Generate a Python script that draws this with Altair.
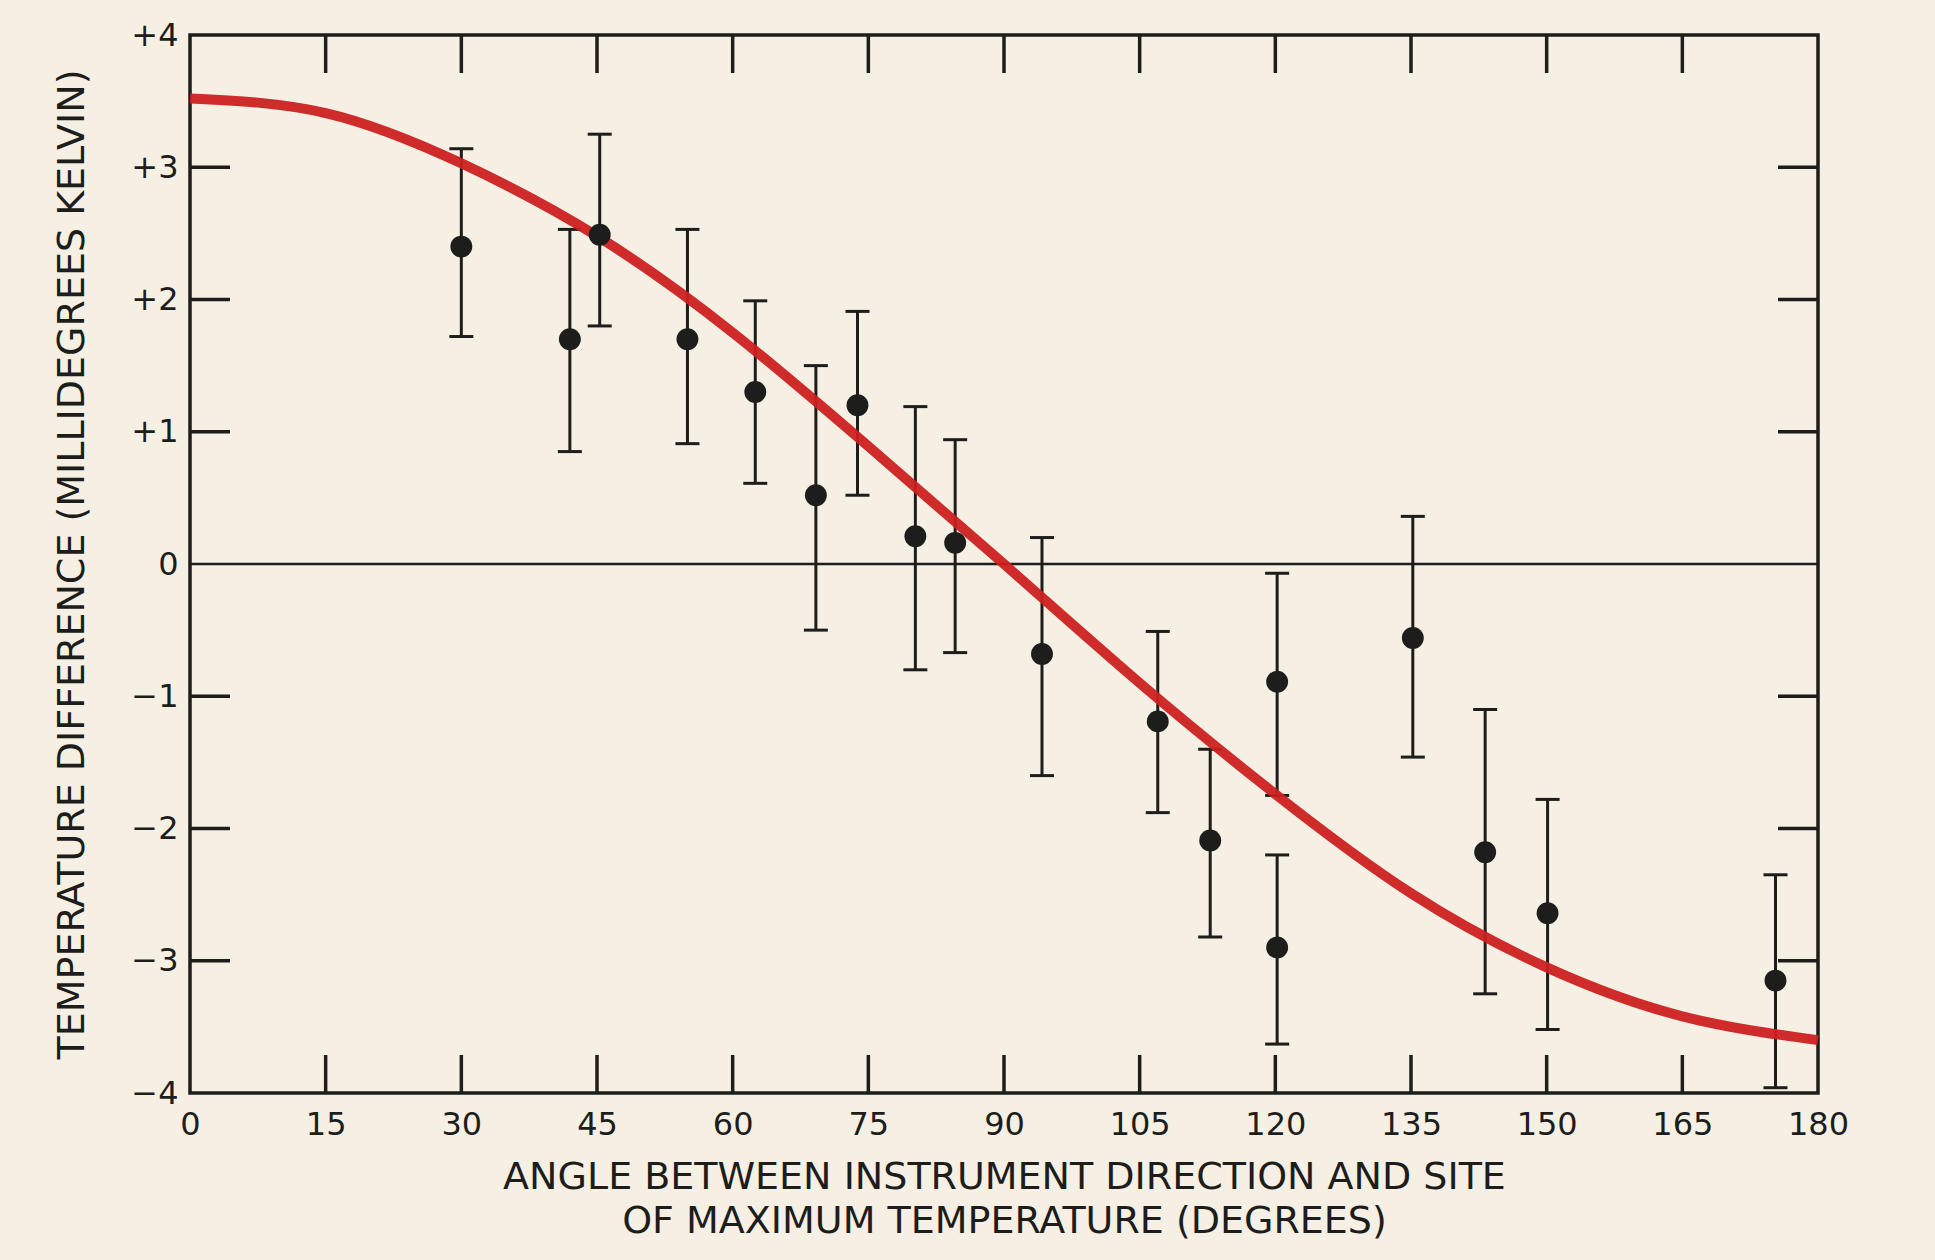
import altair as alt
import pandas as pd

# ---- data ----
angles = [30, 42, 45.3, 55, 62.5, 69.2, 73.8, 80.2, 84.6, 94.2, 107, 112.8, 120.2, 120.2, 135.2, 143.2, 150.1, 175.3]
values = [2.40, 1.70, 2.49, 1.70, 1.30, 0.52, 1.20, 0.21, 0.16, -0.68, -1.19, -2.09, -0.89, -2.90, -0.56, -2.18, -2.64, -3.15]
err_hi = [3.14, 2.53, 3.25, 2.53, 1.99, 1.50, 1.91, 1.19, 0.94, 0.20, -0.51, -1.40, -0.07, -2.20, 0.36, -1.10, -1.78, -2.35]
err_lo = [1.72, 0.85, 1.80, 0.91, 0.61, -0.50, 0.52, -0.80, -0.67, -1.60, -1.88, -2.82, -1.75, -3.63, -1.46, -3.25, -3.52, -3.96]

curve_angle = [0, 15, 30, 45, 60, 75, 90, 105, 120, 135, 150, 165, 180]
curve_value = [3.52, 3.41, 3.03, 2.48, 1.75, 0.89, 0.0, -0.90, -1.74, -2.49, -3.05, -3.42, -3.60]

x_ticks = [15, 30, 45, 60, 75, 90, 105, 120, 135, 150, 165]
y_ticks = [-3, -2, -1, 1, 2, 3]
x_labels = [0, 15, 30, 45, 60, 75, 90, 105, 120, 135, 150, 165, 180]
y_labels = [-4, -3, -2, -1, 0, 1, 2, 3, 4]

x_title = ["ANGLE BETWEEN INSTRUMENT DIRECTION AND SITE", "OF MAXIMUM TEMPERATURE (DEGREES)"]
y_title = "TEMPERATURE DIFFERENCE (MILLIDEGREES KELVIN)"

# ---- styling ----
W, H = 1628, 1058
INK = "#1d1d1b"
CREAM = "#F5EFE4"
RED = "#CC2020"
FONT = "DejaVu Sans"

pts = pd.DataFrame({"angle": angles, "value": values, "hi": err_hi, "lo": err_lo})
curve = pd.DataFrame({"angle": curve_angle, "value": curve_value})
xt = pd.DataFrame({"v": x_ticks})
yt = pd.DataFrame({"v": y_ticks})

xscale = alt.Scale(domain=[0, 180], nice=False, zero=False)
yscale = alt.Scale(domain=[-4, 4], nice=False, zero=False)

X = alt.X(
    "angle:Q",
    scale=xscale,
    axis=alt.Axis(
        values=x_labels, format="d", title=x_title, grid=False, ticks=False, domain=False,
        labelFont=FONT, labelFontSize=32, labelColor=INK, labelPadding=16,
        labelFlush=False, labelOverlap=False,
        titleFont=FONT, titleFontSize=38, titleFontWeight="normal", titleColor=INK,
        titleX=W / 2, titleY=95, titleAnchor="middle", titleAlign="center",
        titleBaseline="alphabetic", titleLineHeight=44,
    ),
)
Y = alt.Y(
    "value:Q",
    scale=yscale,
    axis=alt.Axis(
        values=y_labels, format="d", title=y_title, grid=False, ticks=False, domain=False,
        labelFont=FONT, labelFontSize=32, labelColor=INK, labelPadding=12,
        labelFlush=False, labelOverlap=False,
        labelExpr="datum.value > 0 ? '+' + datum.label : datum.label",
        titleFont=FONT, titleFontSize=38, titleFontWeight="normal", titleColor=INK,
        titleAngle=-90, titleX=-118, titleY=H / 2, titleAlign="center",
        titleBaseline="middle",
    ),
)

zero = alt.Chart(pd.DataFrame({"z": [0]})).mark_rule(color=INK, strokeWidth=2.5).encode(
    y=alt.Y("z:Q", scale=yscale)
)

tick_style = dict(thickness=3.5, color=INK, opacity=1)
ytick_l = alt.Chart(yt).mark_tick(orient="horizontal", size=40, **tick_style).encode(
    y=alt.Y("v:Q", scale=yscale), x=alt.value(20)
)
ytick_r = alt.Chart(yt).mark_tick(orient="horizontal", size=40, **tick_style).encode(
    y=alt.Y("v:Q", scale=yscale), x=alt.value(W - 20)
)
xtick_b = alt.Chart(xt).mark_tick(orient="vertical", size=38, **tick_style).encode(
    x=alt.X("v:Q", scale=xscale), y=alt.value(H - 19)
)
xtick_t = alt.Chart(xt).mark_tick(orient="vertical", size=38, **tick_style).encode(
    x=alt.X("v:Q", scale=xscale), y=alt.value(19)
)

base = alt.Chart(pts)
bars = base.mark_rule(color=INK, strokeWidth=3, opacity=1).encode(
    x=alt.X("angle:Q", scale=xscale), y=alt.Y("lo:Q", scale=yscale), y2="hi:Q"
)
cap_hi = base.mark_tick(orient="horizontal", size=24, thickness=3, color=INK, opacity=1).encode(
    x=alt.X("angle:Q", scale=xscale), y=alt.Y("hi:Q", scale=yscale)
)
cap_lo = base.mark_tick(orient="horizontal", size=24, thickness=3, color=INK, opacity=1).encode(
    x=alt.X("angle:Q", scale=xscale), y=alt.Y("lo:Q", scale=yscale)
)

line = alt.Chart(curve).mark_line(
    color=RED, strokeWidth=10, interpolate="natural", strokeCap="butt", opacity=0.95
).encode(x=X, y=Y)

dots = base.mark_circle(size=480, color=INK, opacity=1).encode(
    x=alt.X("angle:Q", scale=xscale), y=alt.Y("value:Q", scale=yscale)
)

chart = (
    alt.layer(zero, ytick_l, ytick_r, xtick_b, xtick_t, bars, cap_hi, cap_lo, line, dots)
    .properties(
        width=W,
        height=H,
        autosize=alt.AutoSizeParams(type="none"),
        padding={"left": 190, "top": 35, "right": 117, "bottom": 167},
        background=CREAM,
    )
    .configure_view(stroke=INK, strokeWidth=3.5, fill=CREAM)
)

chart.save("out.html", embed_options={"renderer": "svg", "actions": False})
